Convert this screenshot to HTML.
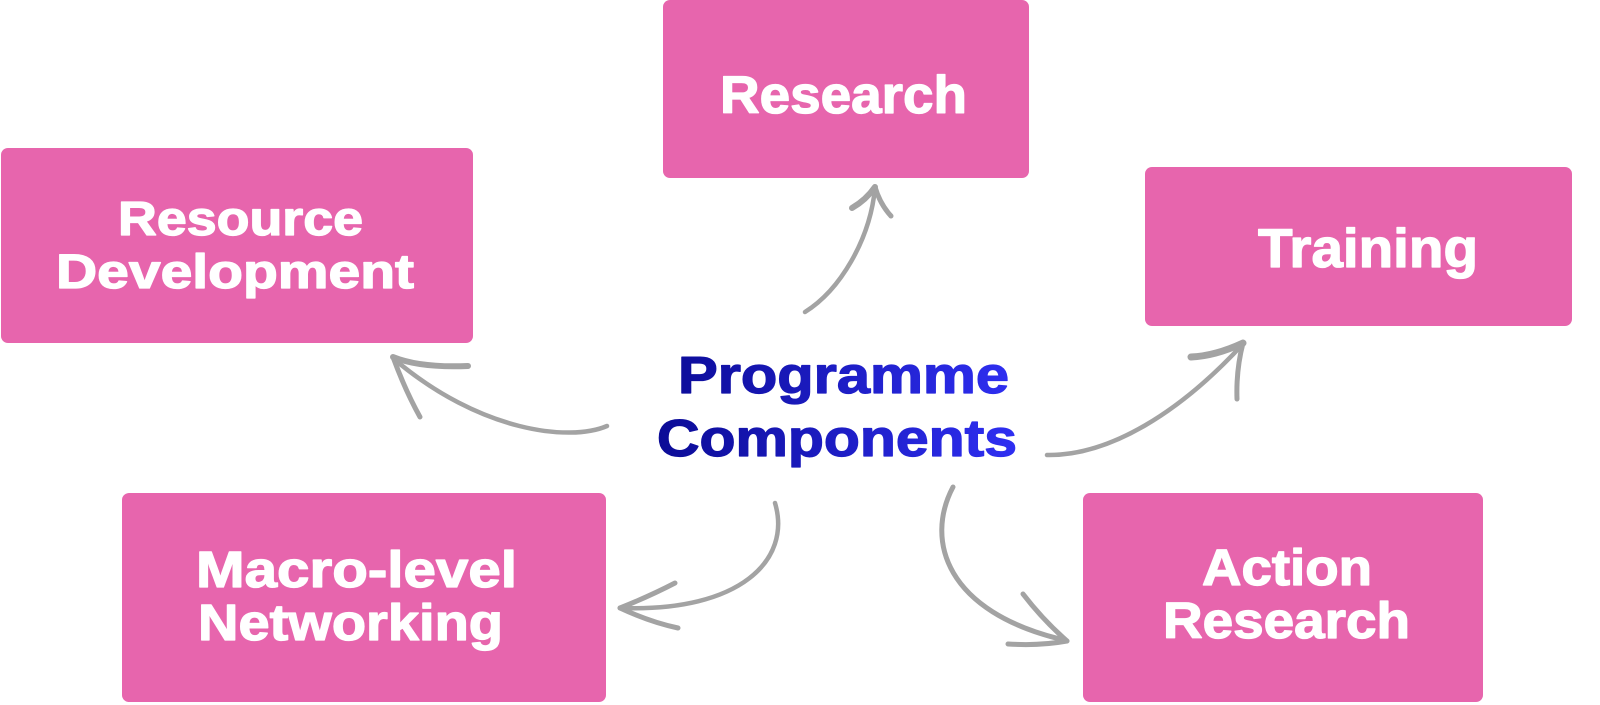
<!DOCTYPE html>
<html>
<head>
<meta charset="utf-8">
<style>
  html,body{margin:0;padding:0;background:#ffffff;}
  body{width:1600px;height:705px;overflow:hidden;}
  svg{display:block;}
  .lbl{font-family:"Liberation Sans",Arial,sans-serif;font-weight:bold;fill:#ffffff;stroke:#ffffff;stroke-width:1.3;stroke-linejoin:round;}
  .ctr{font-family:"Liberation Sans",Arial,sans-serif;font-weight:bold;stroke:url(#g);stroke-width:1.3;stroke-linejoin:round;}
  .arr{fill:none;stroke:#a3a3a3;stroke-linecap:round;stroke-linejoin:round;}
</style>
</head>
<body>
<svg width="1600" height="705" viewBox="0 0 1600 705" xmlns="http://www.w3.org/2000/svg">
  <defs>
    <linearGradient id="g" gradientUnits="userSpaceOnUse" x1="657" y1="0" x2="1017" y2="0">
      <stop offset="0" stop-color="#0b0b96"/>
      <stop offset="1" stop-color="#2f2ff2"/>
    </linearGradient>
  </defs>

  <!-- Boxes -->
  <rect x="663" y="0" width="366" height="178" rx="7" fill="#e765ad"/>
  <rect x="1" y="148" width="472" height="195" rx="7" fill="#e765ad"/>
  <rect x="1145" y="167" width="427" height="159" rx="7" fill="#e765ad"/>
  <rect x="122" y="493" width="484" height="209" rx="7" fill="#e765ad"/>
  <rect x="1083" y="493" width="400" height="209" rx="7" fill="#e765ad"/>

  <!-- Box labels -->
  <text class="lbl" x="720" y="113" font-size="53" textLength="247" lengthAdjust="spacingAndGlyphs">Research</text>
  <text class="lbl" x="118" y="235" font-size="48" textLength="245" lengthAdjust="spacingAndGlyphs">Resource</text>
  <text class="lbl" x="56" y="288" font-size="48" textLength="358" lengthAdjust="spacingAndGlyphs">Development</text>
  <text class="lbl" x="1258" y="267" font-size="55" textLength="220" lengthAdjust="spacingAndGlyphs">Training</text>
  <text class="lbl" x="196" y="587" font-size="51" textLength="321" lengthAdjust="spacingAndGlyphs">Macro-level</text>
  <text class="lbl" x="198" y="640" font-size="51" textLength="305" lengthAdjust="spacingAndGlyphs">Networking</text>
  <text class="lbl" x="1202" y="585" font-size="51" textLength="170" lengthAdjust="spacingAndGlyphs">Action</text>
  <text class="lbl" x="1163" y="638" font-size="51" textLength="247" lengthAdjust="spacingAndGlyphs">Research</text>

  <!-- Center label -->
  <text class="ctr" x="678" y="393" font-size="52" fill="url(#g)" textLength="331" lengthAdjust="spacingAndGlyphs">Programme</text>
  <text class="ctr" x="657" y="456" font-size="52" fill="url(#g)" textLength="360" lengthAdjust="spacingAndGlyphs">Components</text>

  <!-- Arrow to Research -->
  <path class="arr" stroke-width="4.5" d="M805,312 C840,290 870,240 875,188"/>
  <path class="arr" stroke-width="6" d="M875,187 Q866,200 852,208"/>
  <path class="arr" stroke-width="5" d="M875,187 Q880,204 891,216"/>

  <!-- Arrow to Resource Development -->
  <path class="arr" stroke-width="4.5" d="M607,426 C570,442 480,432 394,359"/>
  <path class="arr" stroke-width="6" d="M393,357 Q420,368 468,366"/>
  <path class="arr" stroke-width="5" d="M393,357 Q405,390 420,417"/>

  <!-- Arrow to Training -->
  <path class="arr" stroke-width="4.5" d="M1047,455 C1110,456 1180,412 1242,345"/>
  <path class="arr" stroke-width="7" d="M1243,343 Q1215,356 1191,357"/>
  <path class="arr" stroke-width="5" d="M1243,343 Q1236,370 1237,399"/>

  <!-- Arrow to Macro-level Networking -->
  <path class="arr" stroke-width="4.5" d="M775,503 C792,560 740,612 622,608"/>
  <path class="arr" stroke-width="5" d="M620,608 Q650,596 675,583"/>
  <path class="arr" stroke-width="5" d="M620,608 Q650,622 678,628"/>

  <!-- Arrow to Action Research -->
  <path class="arr" stroke-width="5" d="M953,487 C925,540 945,612 1064,640"/>
  <path class="arr" stroke-width="5" d="M1067,641 Q1043,620 1023,594"/>
  <path class="arr" stroke-width="5" d="M1067,641 Q1040,646 1008,644"/>
</svg>
</body>
</html>
